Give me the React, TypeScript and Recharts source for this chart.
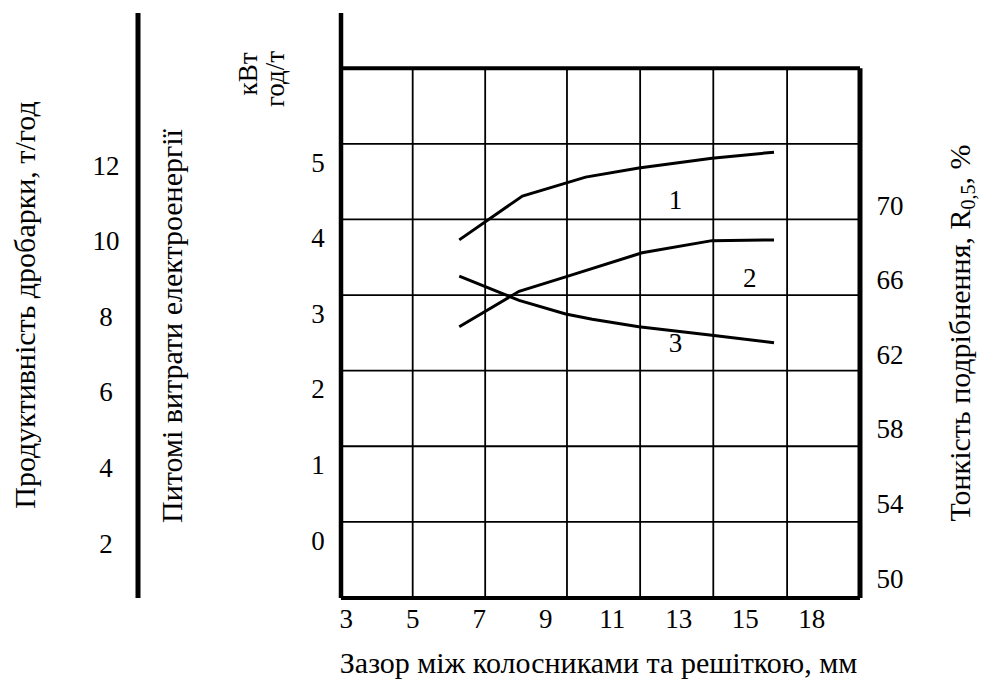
import React from "react";
import { LineChart, Line, XAxis, YAxis, ReferenceLine, ReferenceDot } from "recharts";

const FONT = "'Liberation Serif', 'Times New Roman', Times, serif";
const INK = "#000";

// ---- axis labels ----
const xTickLabels = ["3", "5", "7", "9", "11", "13", "15", "18"]; // printed gap values, mm
const xTickValues = xTickLabels.map(Number);
const xTickSlots = [0, 1, 2, 3, 4, 5, 6, 7];

const kwTicks = [0, 1, 2, 3, 4, 5]; // кВт год/т
const prodTicks = [2, 4, 6, 8, 10, 12]; // т/год
const fineTicks = [50, 54, 58, 62, 66, 70]; // %

// ---- axis ranges ----
const xRange = [-0.078, 7.726]; // slot units of the printed x labels
const kwRange = [-0.767, 6.971];
const prodRange = [0.545, 16.02];
const fineRange = [48.93, 80.29];

// ---- frame / grid (in axis units) ----
const boxTopKw = 6.24;
const gridKw = [0.24, 1.24, 2.24, 3.24, 4.24, 5.24];
const gridSlots = [1.0, 2.09, 3.32, 4.42, 5.52, 6.63];

// ---- curves: gap (mm) vs value ----
const curve1X = [6.4, 8.3, 10.2, 11.8, 14.0, 16.3];
const curve1Y = [3.97, 4.55, 4.8, 4.92, 5.05, 5.13];
const curve2X = [6.4, 8.2, 9.6, 11.9, 14.0, 16.3];
const curve2Y = [2.82, 3.29, 3.48, 3.8, 3.96, 3.97];
const curve3X = [6.4, 8.2, 9.6, 10.4, 11.8, 14.0, 16.3];
const curve3Y = [3.49, 3.17, 2.99, 2.92, 2.82, 2.71, 2.61];

const curveNames = ["1", "2", "3"];
const curveNameX = [12.9, 15.2, 12.9];
const curveNameY = [4.5, 3.48, 2.61];

// map mm onto the printed (uneven) x label positions
const toSlot = (mm: number) => {
  const v = xTickValues;
  let i = 0;
  while (i < v.length - 2 && mm > v[i + 1]) i++;
  return i + (mm - v[i]) / (v[i + 1] - v[i]);
};

const build = (xs: number[], ys: number[]) => xs.map((x, i) => ({ x: toSlot(x), y: ys[i] }));
const series = [build(curve1X, curve1Y), build(curve2X, curve2Y), build(curve3X, curve3Y)];

const RotText = ({ bx, cy, size = 30, children }: any) => (
  <text
    x={bx}
    y={cy}
    transform={`rotate(-90 ${bx} ${cy})`}
    textAnchor="middle"
    fontFamily={FONT}
    fontSize={size}
    fill={INK}
  >
    {children}
  </text>
);

const centeredTick = (size: number) => (p: any) => (
  <text x={p.x} y={p.y} dy="0.355em" textAnchor="middle" fontFamily={FONT} fontSize={size} fill={INK}>
    {p.payload.value}
  </text>
);

const kwTitle = (p: any) => {
  const { x, y } = p.viewBox;
  return (
    <g>
      <RotText bx={x + 44} cy={y + 313}>Питомі витрати електроенергії</RotText>
      <RotText bx={x + 119} cy={y + 61} size={27}>кВт</RotText>
      <RotText bx={x + 146} cy={y + 66} size={27}>год/т</RotText>
    </g>
  );
};

const prodTitle = (p: any) => {
  const { x, y } = p.viewBox;
  return <RotText bx={x + 35} cy={y + 292}>Продуктивність дробарки, т/год</RotText>;
};

const fineTitle = (p: any) => {
  const { x, y } = p.viewBox;
  return (
    <RotText bx={x + 110} cy={y + 320}>
      Тонкість подрібнення, R
      <tspan dy={5} fontSize={20}>0,5</tspan>
      <tspan dy={-5}>, %</tspan>
    </RotText>
  );
};

const xTitle = (p: any) => {
  const { x, y, width, height } = p.viewBox;
  return (
    <text x={x + width / 2 - 2} y={y + height - 8} textAnchor="middle" fontFamily={FONT} fontSize={30} fill={INK}>
      Зазор між колосниками та решіткою, мм
    </text>
  );
};

export default function App() {
  return (
    <div style={{ position: "absolute", left: 0, top: 0, width: 981, height: 681, background: "#fff" }}>
      <LineChart width={981} height={681} margin={{ top: 13, right: 0, bottom: 0, left: 0 }}>
        <XAxis
          type="number"
          dataKey="x"
          domain={xRange}
          ticks={xTickSlots}
          tickFormatter={(v: number) => xTickLabels[v]}
          interval={0}
          allowDataOverflow
          height={83}
          axisLine={{ stroke: INK, strokeWidth: 4 }}
          tickLine={false}
          tickSize={0}
          tickMargin={11}
          tick={{ fill: INK, fontSize: 27, fontFamily: FONT }}
          label={xTitle}
        />
        <YAxis
          yAxisId="kw"
          type="number"
          domain={kwRange}
          ticks={kwTicks}
          interval={0}
          allowDataOverflow
          width={203}
          axisLine={{ stroke: INK, strokeWidth: 4.5 }}
          tickLine={false}
          tickSize={0}
          tickMargin={23}
          tick={centeredTick(27)}
          label={kwTitle}
        />
        <YAxis
          yAxisId="prod"
          type="number"
          domain={prodRange}
          ticks={prodTicks}
          interval={0}
          allowDataOverflow
          width={138}
          axisLine={{ stroke: INK, strokeWidth: 5 }}
          tickLine={false}
          tickSize={0}
          tickMargin={32}
          tick={centeredTick(27)}
          label={prodTitle}
        />
        <YAxis
          yAxisId="fine"
          orientation="right"
          type="number"
          domain={fineRange}
          ticks={fineTicks}
          interval={0}
          allowDataOverflow
          width={121}
          axisLine={false}
          tickLine={false}
          tickSize={0}
          tickMargin={30}
          tick={centeredTick(27)}
          label={fineTitle}
        />

        {gridSlots.map((s) => (
          <ReferenceLine
            key={`gv${s}`}
            yAxisId="kw"
            ifOverflow="visible"
            segment={[{ x: s, y: kwRange[0] }, { x: s, y: boxTopKw }]}
            stroke={INK}
            strokeWidth={1.8}
          />
        ))}
        {gridKw.map((k) => (
          <ReferenceLine
            key={`gh${k}`}
            yAxisId="kw"
            ifOverflow="visible"
            segment={[{ x: xRange[0], y: k }, { x: xRange[1], y: k }]}
            stroke={INK}
            strokeWidth={1.8}
          />
        ))}
        <ReferenceLine
          yAxisId="kw"
          ifOverflow="visible"
          segment={[{ x: xRange[0], y: boxTopKw }, { x: xRange[1], y: boxTopKw }]}
          stroke={INK}
          strokeWidth={4}
        />
        <ReferenceLine
          yAxisId="kw"
          ifOverflow="visible"
          segment={[{ x: xRange[1], y: kwRange[0] }, { x: xRange[1], y: boxTopKw }]}
          stroke={INK}
          strokeWidth={5}
        />

        {series.map((d, i) => (
          <Line
            key={`s${i}`}
            yAxisId="kw"
            data={d}
            dataKey="y"
            type="linear"
            stroke={INK}
            strokeWidth={3}
            dot={false}
            activeDot={false}
            isAnimationActive={false}
          />
        ))}

        {curveNames.map((n, i) => (
          <ReferenceDot
            key={`n${n}`}
            yAxisId="kw"
            x={toSlot(curveNameX[i])}
            y={curveNameY[i]}
            r={0}
            fill="none"
            stroke="none"
            ifOverflow="visible"
            label={{ value: n, position: "center", fill: INK, fontSize: 27, fontFamily: FONT }}
          />
        ))}
      </LineChart>
    </div>
  );
}
